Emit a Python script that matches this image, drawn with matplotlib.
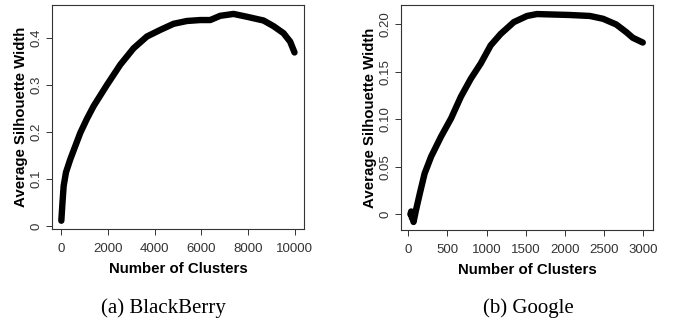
import matplotlib.pyplot as plt

# BlackBerry: average silhouette width vs number of clusters
bb_k = [0, 50, 100, 200, 386, 600, 814, 1100, 1386, 1957, 2529, 3100, 3671,
        4243, 4814, 5386, 5957, 6386, 6814, 7386, 7957, 8671, 9100, 9529, 9814, 10000]
bb_w = [0.011, 0.05, 0.085, 0.114, 0.142, 0.170, 0.198, 0.228, 0.255, 0.300,
        0.343, 0.378, 0.403, 0.417, 0.430, 0.436, 0.438, 0.438, 0.447, 0.451,
        0.445, 0.437, 0.425, 0.410, 0.392, 0.369]

# Google
g_k = [30, 40, 50, 60, 70, 100, 150, 211, 295, 421, 548, 674, 801, 927, 1053,
       1180, 1348, 1517, 1643, 1854, 2065, 2317, 2486, 2654, 2781, 2865, 2992]
g_w = [0.000, 0.003, -0.004, 0.001, -0.008, 0.004, 0.022, 0.043, 0.061, 0.082,
       0.101, 0.124, 0.143, 0.159, 0.178, 0.190, 0.2025, 0.209, 0.211, 0.2105,
       0.210, 0.209, 0.206, 0.200, 0.192, 0.186, 0.181]

bb_xticks = [0, 2000, 4000, 6000, 8000, 10000]
bb_yticks = [0, 0.1, 0.2, 0.3, 0.4]
bb_ylabels = ['0', '0.1', '0.2', '0.3', '0.4']
g_xticks = [0, 500, 1000, 1500, 2000, 2500, 3000]
g_yticks = [0, 0.05, 0.10, 0.15, 0.20]
g_ylabels = ['0', '0.05', '0.10', '0.15', '0.20']

plt.rcParams['font.family'] = 'Liberation Sans'

fig = plt.figure(figsize=(6.77, 3.27), dpi=100)
ax1 = fig.add_axes([0.0768, 0.2997, 0.372, 0.685])
ax2 = fig.add_axes([0.5923, 0.2966, 0.372, 0.688])

panels = [
    (ax1, bb_k, bb_w, bb_xticks, bb_yticks, bb_ylabels, (-400, 10400), (-0.0066, 0.470), '(a) BlackBerry', 0.241),
    (ax2, g_k, g_w, g_xticks, g_yticks, g_ylabels, (-90, 3120), (-0.0165, 0.2205), '(b) Google', 0.781),
]

for ax, x, y, xt, yt, yl, xlim, ylim, cap, capx in panels:
    ax.plot(x, y, color='black', lw=4.6, solid_capstyle='round', solid_joinstyle='round')
    ax.set_xlim(*xlim)
    ax.set_ylim(*ylim)
    ax.set_xticks(xt)
    ax.set_xticklabels([str(v) for v in xt], color='#333333', fontsize=9.5)
    ax.set_yticks(yt)
    ax.set_yticklabels(yl, rotation=90, va='center', color='#333333', fontsize=9.5)
    ax.tick_params(direction='out', length=4, width=0.7, color='#333333')
    ax.tick_params(axis='y', pad=2.5)
    ax.tick_params(axis='x', pad=6)
    for s in ax.spines.values():
        s.set_linewidth(0.8)
        s.set_color('#333333')
    ax.set_xlabel('Number of Clusters', fontweight='bold', fontsize=10.8, labelpad=5)
    ax.set_ylabel('Average Silhouette Width', fontweight='bold', fontsize=10.8, labelpad=2)
    fig.text(capx, 0.058, cap, ha='center', va='center',
             family='Liberation Serif', fontsize=15)

fig.savefig('out.png', dpi=100)
